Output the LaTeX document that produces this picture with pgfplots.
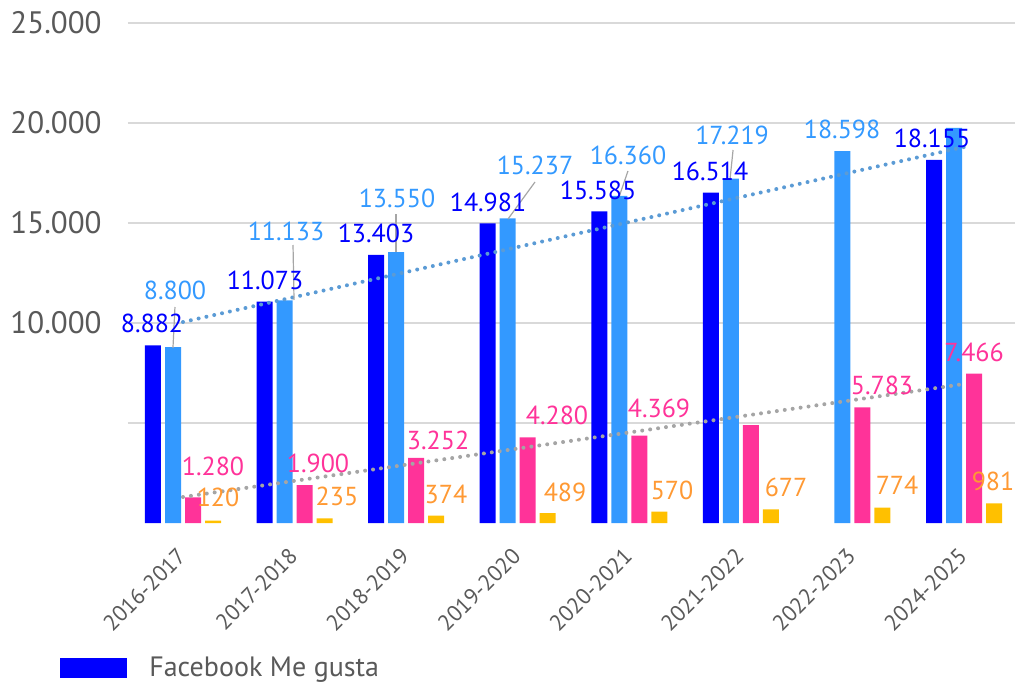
\documentclass[border=0pt]{standalone}
\usepackage{pgfplots}
\usepackage{pgfplotstable}
\pgfplotsset{compat=1.18}
\usepackage{fontspec}
\setmainfont{PT Sans}
\definecolor{cdark}{HTML}{0000FF}
\definecolor{clight}{HTML}{3399FF}
\definecolor{cpink}{HTML}{FF3399}
\definecolor{cyellow}{HTML}{FFC000}
\definecolor{corange}{HTML}{FF9933}
\definecolor{gridgray}{HTML}{D9D9D9}
\definecolor{txtgray}{HTML}{595959}
\definecolor{trendblue}{HTML}{5B9BD5}
\definecolor{trendgray}{HTML}{A5A5A5}
\definecolor{leader}{HTML}{A6A6A6}
\newcommand\lbl{\fontsize{13}{13}\selectfont}

\pgfplotstableread{
x dark light pink yellow
0 8882 8800 1280 120
1 11073 11133 1900 235
2 13403 13550 3252 374
3 14981 15237 4280 489
4 15585 16360 4369 570
5 16514 17219 4900 677
6 nan 18598 5783 774
7 18155 19750 7466 981
}\data

\begin{document}
\begin{tikzpicture}
\useasboundingbox (-64pt,-81.5pt) rectangle (443.5pt,261.5pt);
\begin{axis}[
  scale only axis, width=443.5pt, height=250pt,
  xmin=-0.493, xmax=7.457, ymin=0, ymax=25000,
  axis line style={draw=none}, major tick length=0pt,
  clip=false, scaled y ticks=false,
  ytick={5000,10000,15000,20000,25000},
  yticklabels={,10.000,15.000,20.000,25.000},
  ymajorgrids, grid style={color=gridgray, line width=0.75pt},
  xtick={0,1,2,3,4,5,6,7},
  xticklabels={2016-2017,2017-2018,2018-2019,2019-2020,2020-2021,2021-2022,2022-2023,2024-2025},
  yticklabel style={font=\fontsize{15.5}{15.5}\selectfont, text=txtgray, anchor=east, inner sep=0pt, xshift=-13pt},
  xticklabel style={font=\fontsize{11.2}{11.2}\selectfont, text=txtgray, inner sep=0pt, yshift=-14.5pt, xshift=-0.5pt, rotate=45, anchor=east},
  legend style={at={(-0.0767,-0.29)}, anchor=west, draw=none, fill=none, inner sep=0pt,
    font=\fontsize{14}{14}\selectfont, text=txtgray,
    /tikz/every odd column/.append style={column sep=9pt}},
  legend cell align=left,
]
\addplot[ybar, bar width=0.1434, bar shift=-0.269, fill=cdark, draw=none,
  legend image code/.code={\fill[cdark] (0pt,-5pt) rectangle (33.5pt,5pt);}]
  table[x=x, y=dark] {\data};
\addlegendentry{Facebook Me gusta}
\addplot[ybar, bar width=0.1434, bar shift=-0.0896, fill=clight, draw=none, forget plot]
  table[x=x, y=light] {\data};
\addplot[ybar, bar width=0.1434, bar shift=0.0896, fill=cpink, draw=none, forget plot]
  table[x=x, y=pink] {\data};
\addplot[ybar, bar width=0.1434, bar shift=0.269, fill=cyellow, draw=none, forget plot]
  table[x=x, y=yellow] {\data};
% trend lines
\addplot[forget plot, sharp plot, color=trendblue, line width=2pt, line cap=round, dash pattern=on 0pt off 4pt]
  coordinates {(0,10050) (7,18800)};
\addplot[forget plot, sharp plot, color=trendgray, line width=2pt, line cap=round, dash pattern=on 0pt off 4pt]
  coordinates {(0,1300) (7,6950)};
% leader lines
\draw[leader, line width=0.6pt] (axis cs:-0.072,10800) -- (axis cs:-0.090,8750);
\draw[leader, line width=0.6pt] (axis cs:0.986,13900) -- (axis cs:0.995,11150);
\draw[leader, line width=0.6pt] (axis cs:1.909,15450) -- (axis cs:1.909,13550);
\draw[leader, line width=0.6pt] (axis cs:3.155,17050) -- (axis cs:2.913,15200);
\draw[leader, line width=0.6pt] (axis cs:3.988,17600) -- (axis cs:3.908,16300);
\draw[leader, line width=0.6pt] (axis cs:4.930,18650) -- (axis cs:4.903,17200);
% data labels
\begin{scope}[every node/.style={font=\lbl, inner sep=0pt}]
\node[text=cdark] at (axis cs:-0.278,10000) {8.882};
\node[text=clight] at (axis cs:-0.072,11650) {8.800};
\node[text=cpink] at (axis cs:0.269,2850) {1.280};
\node[text=corange] at (axis cs:0.314,1300) {120};
\node[text=cdark] at (axis cs:0.735,12150) {11.073};
\node[text=clight] at (axis cs:0.923,14600) {11.133};
\node[text=cpink] at (axis cs:1.210,3000) {1.900};
\node[text=corange] at (axis cs:1.380,1350) {235};
\node[text=cdark] at (axis cs:1.730,14500) {13.403};
\node[text=clight] at (axis cs:1.918,16250) {13.550};
\node[text=cpink] at (axis cs:2.286,4150) {3.252};
\node[text=corange] at (axis cs:2.357,1450) {374};
\node[text=cdark] at (axis cs:2.734,16050) {14.981};
\node[text=clight] at (axis cs:3.155,17900) {15.237};
\node[text=cpink] at (axis cs:3.352,5400) {4.280};
\node[text=corange] at (axis cs:3.424,1550) {489};
\node[text=cdark] at (axis cs:3.720,16650) {15.585};
\node[text=clight] at (axis cs:3.988,18400) {16.360};
\node[text=cpink] at (axis cs:4.266,5750) {4.369};
\node[text=corange] at (axis cs:4.383,1650) {570};
\node[text=cdark] at (axis cs:4.723,17600) {16.514};
\node[text=clight] at (axis cs:4.921,19400) {17.219};
\node[text=corange] at (axis cs:5.405,1800) {677};
\node[text=clight] at (axis cs:5.907,19700) {18.598};
\node[text=cpink] at (axis cs:6.265,6900) {5.783};
\node[text=corange] at (axis cs:6.400,1900) {774};
\node[text=cdark] at (axis cs:6.713,19250) {18.155};
\node[text=cpink] at (axis cs:7.090,8550) {7.466};
\node[text=corange] at (axis cs:7.260,2100) {981};
\end{scope}
\end{axis}
\end{tikzpicture}
\end{document}
